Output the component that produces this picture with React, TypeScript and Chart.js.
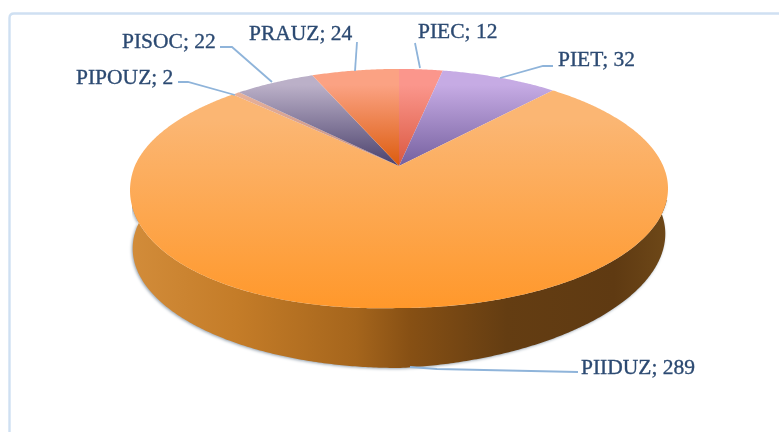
import React, { useEffect, useRef } from "react";
import { Chart, registerables } from "chart.js";

Chart.register(...registerables);

const categories = ["PIEC", "PIET", "PIIDUZ", "PIPOUZ", "PISOC", "PRAUZ"];
const values = [12, 32, 289, 2, 22, 24];
const baseColors = ["#F58A7C", "#B79BDC", "#FDB36B", "#E0A088", "#A99CB8", "#F59A74"];

const rimColors = ["#FB968C", "#C6ABE4", "#FBB673", "#EDB69C", "#BBB0C8", "#FBA283"];
const hubColors = ["#DA5840", "#75609F", "#FF982B", "#BC8A84", "#4A416C", "#DC5C0E"];
const wallStops = [
  [0, "#D28C3A"], [0.2, "#C47C28"], [0.42, "#A5651C"], [0.52, "#875014"],
  [0.7, "#643D12"], [0.9, "#5F3A12"], [1, "#6E4818"],
];
const labelX = [418, 558, 581, 76, 122, 249];
const labelY = [38, 66, 374, 84, 48, 40];
const leaders = [
  [[415, 43], [420, 68]],
  [[553, 66], [543, 66], [500, 78]],
  [[578, 372], [437, 369], [410, 367]],
  [[178, 82], [188, 82], [235, 95]],
  [[220, 47], [232, 47], [272, 82]],
  [[357, 42], [355, 71]],
];

const APEX_X = 399, APEX_Y = 166, K = -0.188, SY = 115.3, SX = 264.2, DEPTH = 60;

function proj(a: number, dy = 0, sx = 1): [number, number] {
  const u = Math.cos(a), v = Math.sin(a), den = 1 + K * v;
  const x = APEX_X + (sx * SX * u) / den;
  let y = APEX_Y + (SY * v) / den;
  if (dy) y += dy * (1 - 0.25 * Math.max(0, u));
  else if (u < 0 && v > 0) y += 10 * -u * v;
  return [x, y];
}

function traceArc(ctx: CanvasRenderingContext2D, s: number, e: number, dy = 0, sx = 1, move = false) {
  const n = Math.max(4, Math.ceil(Math.abs(e - s) * 120));
  for (let i = 0; i <= n; i++) {
    const [x, y] = proj(s + ((e - s) * i) / n, dy, sx);
    if (i === 0 && move) ctx.moveTo(x, y); else ctx.lineTo(x, y);
  }
}

const piePlugin = {
  id: "perspectivePie",
  beforeDraw(chart: any) {
    const { ctx } = chart;
    ctx.save();
    ctx.fillStyle = "#fff";
    ctx.fillRect(0, 0, chart.width, chart.height);
    ctx.strokeStyle = "#CFE0F2";
    ctx.lineWidth = 2.4;
    ctx.beginPath();
    ctx.moveTo(9.5, 432);
    ctx.lineTo(9.5, 18);
    ctx.quadraticCurveTo(9.5, 13.5, 14, 13.5);
    ctx.lineTo(779, 13.5);
    ctx.stroke();
    ctx.restore();
  },
  beforeDatasetsDraw(chart: any) {
    const { ctx } = chart;
    const arcs = chart.getDatasetMeta(0).data;
    ctx.save();
    // side wall of the largest slice
    const big = arcs[values.indexOf(Math.max(...values))];
    const s = Math.max(big.startAngle, -0.08), e = Math.min(big.endAngle, Math.PI + 0.08);
    const wall = ctx.createLinearGradient(130, 0, 668, 0);
    wallStops.forEach(([p, c]) => wall.addColorStop(p as number, c as string));
    ctx.save();
    ctx.beginPath();
    ctx.moveTo(132, 200);
    ctx.lineTo(779, 200);
    ctx.lineTo(779, 432);
    ctx.lineTo(120, 432);
    ctx.lineTo(120, 240);
    ctx.lineTo(132, 225);
    ctx.closePath();
    ctx.clip();
    ctx.beginPath();
    traceArc(ctx, s, e, DEPTH, 0.99, true);
    traceArc(ctx, e, s, 0, 1);
    ctx.closePath();
    ctx.shadowColor = "rgba(90,110,130,0.6)";
    ctx.shadowBlur = 3;
    ctx.shadowOffsetX = -1;
    ctx.shadowOffsetY = 1;
    ctx.fillStyle = wall;
    ctx.fill();
    ctx.restore();
    // top faces
    arcs.forEach((arc: any, i: number) => {
      const isBig = arc === big;
      const g = ctx.createLinearGradient(0, isBig ? 120 : 85, 0, isBig ? 308 : APEX_Y);
      g.addColorStop(0, rimColors[i]);
      g.addColorStop(1, hubColors[i]);
      ctx.beginPath();
      ctx.moveTo(APEX_X, APEX_Y);
      traceArc(ctx, arc.startAngle, arc.endAngle);
      ctx.closePath();
      ctx.fillStyle = g;
      ctx.fill();
    });
    ctx.restore();
    return false;
  },
  afterDraw(chart: any) {
    const { ctx } = chart;
    ctx.save();
    ctx.strokeStyle = "#8FB4DA";
    ctx.lineWidth = 1.8;
    leaders.forEach((pts) => {
      ctx.beginPath();
      pts.forEach(([x, y], j) => (j ? ctx.lineTo(x, y) : ctx.moveTo(x, y)));
      ctx.stroke();
    });
    ctx.fillStyle = "#2C4A72";
    ctx.strokeStyle = "#2C4A72";
    ctx.lineWidth = 0.35;
    ctx.font = '21.5px "Liberation Serif"';
    ctx.textBaseline = "alphabetic";
    categories.forEach((c, i) => {
      const t = `${c}; ${values[i]}`;
      ctx.fillText(t, labelX[i], labelY[i]);
      ctx.strokeText(t, labelX[i], labelY[i]);
    });
    ctx.restore();
  },
};

export default function App() {
  const ref = useRef<HTMLCanvasElement>(null);
  useEffect(() => {
    document.body.style.margin = "0";
    const chart = new Chart(ref.current!, {
      type: "pie",
      data: {
        labels: categories,
        datasets: [{ data: values, backgroundColor: baseColors, borderWidth: 0 }],
      },
      options: {
        responsive: false,
        animation: false,
        plugins: { legend: { display: false }, tooltip: { enabled: false } },
      },
      plugins: [piePlugin],
    });
    return () => chart.destroy();
  }, []);
  return (
    <canvas
      ref={ref}
      width={779}
      height={432}
      style={{ display: "block", width: 779, height: 432, filter: "blur(0.5px)" }}
    />
  );
}
